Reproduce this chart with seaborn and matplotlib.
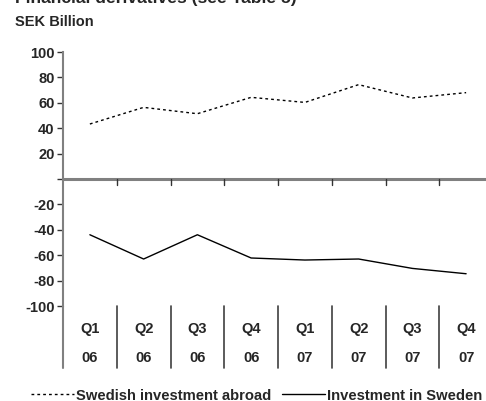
import matplotlib
matplotlib.use("Agg")
import matplotlib.pyplot as plt
import matplotlib.transforms as mtransforms
from matplotlib.lines import Line2D
import seaborn as sns
import pandas as pd
import numpy as np

quarters = ["Q1", "Q2", "Q3", "Q4", "Q1", "Q2", "Q3", "Q4"]
years = ["06", "06", "06", "06", "07", "07", "07", "07"]
abroad = [43.3, 56.4, 51.4, 64.3, 60.3, 74.3, 63.8, 68.0]
in_sweden = [-43.9, -63.0, -43.9, -62.2, -63.8, -63.0, -70.4, -74.6]
yticks = [-100, -80, -60, -40, -20, 0, 20, 40, 60, 80, 100]
ytick_labels = ["-100", "-80", "-60", "-40", "-20", "", "20", "40", "60", "80", "100"]

sns.set_theme(style="white")
plt.rcParams['font.family'] = ['Liberation Sans', 'DejaVu Sans']
plt.rcParams['font.weight'] = 'bold'

W, H = 486, 401
fig = plt.figure(figsize=(W / 100, H / 100), dpi=100)
left, right, top, bottom = 63, 493, 52, 306
ax = fig.add_axes([left / W, 1 - bottom / H, (right - left) / W, (bottom - top) / H])

pos = np.arange(len(quarters)) + 0.5
df = pd.DataFrame({"x": pos, "abroad": abroad, "sweden": in_sweden})
sns.lineplot(data=df, x="x", y="abroad", ax=ax, color="black", lw=1.0,
             linestyle=(0, (2, 2.2)))
sns.lineplot(data=df, x="x", y="sweden", ax=ax, color="black", lw=1.0)

ax.set_xlim(0, len(quarters))
ax.set_ylim(-100, 100)
ax.set_xlabel("")
ax.set_ylabel("")
for s in ["top", "right", "bottom"]:
    ax.spines[s].set_visible(False)
ax.spines["left"].set_color("#808080")
ax.spines["left"].set_linewidth(1.5)

ax.set_yticks(yticks)
ax.set_yticklabels(ytick_labels, fontsize=10.5, fontweight="bold")
ax.tick_params(axis="y", left=True, length=4, width=1, color="#333333", pad=2)
ax.set_xticks([])

# zero line with category ticks
ax.axhline(0, color="#808080", lw=2.2, zorder=1)
trans = mtransforms.blended_transform_factory(ax.transData, ax.transAxes)
for i in range(1, len(quarters) + 1):
    ax.plot([i, i], [0, -5], color="#333333", lw=1, clip_on=False)
# separators below plot
sep_bottom = (bottom - 368) / (bottom - top)
for i in range(0, len(quarters) + 1):
    ax.plot([i, i], [sep_bottom, 0], color="#404040" if i else "#808080",
            lw=1.2 if i else 1.5, transform=trans, clip_on=False)
# category labels
y_q = (bottom - 329) / (bottom - top)
y_y = (bottom - 358) / (bottom - top)
for p, q, yr in zip(pos, quarters, years):
    ax.text(p, y_q, q, transform=trans, ha="center", va="center", fontsize=10.5, fontweight="bold")
    ax.text(p, y_y, yr, transform=trans, ha="center", va="center", fontsize=10.5, fontweight="bold")

fig.text(15 / W, 1 - 3.5 / H, "Financial derivatives (see Table 5)", fontsize=12.6,
         fontweight="bold", ha="left", va="baseline")
fig.text(15 / W, 1 - 22 / H, "SEK Billion", fontsize=10.5, fontweight="bold", ha="left", va="center")

handles = [Line2D([], [], color="black", lw=1.0, linestyle=(0, (2, 2.2))),
           Line2D([], [], color="black", lw=1.0)]
fig.legend(handles, ["Swedish investment abroad", "Investment in Sweden"],
           loc="center left", bbox_to_anchor=(31 / W, 1 - 395.5 / H), ncol=2,
           frameon=False, handlelength=2.9, handletextpad=0.15,
           columnspacing=0.75, borderpad=0, borderaxespad=0,
           prop={"weight": "bold", "size": 10.6})

fig.savefig("out.png", dpi=100)
